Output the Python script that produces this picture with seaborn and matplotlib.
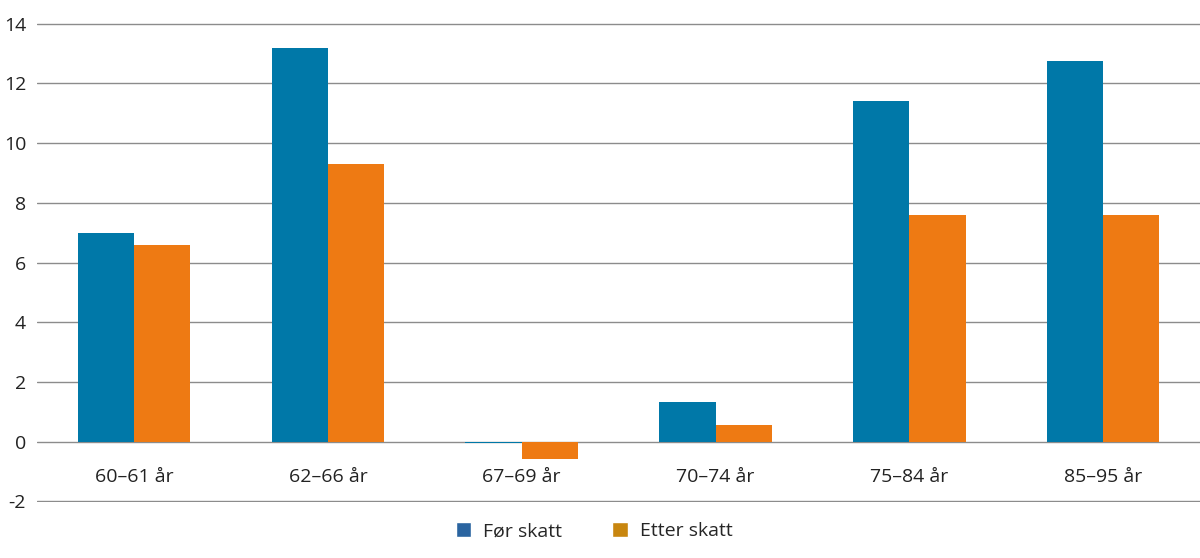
import numpy as np
import pandas as pd
import matplotlib.pyplot as plt
import seaborn as sns
from matplotlib.patches import Patch

# data
categories = ['60–61 år', '62–66 år', '67–69 år', '70–74 år', '75–84 år', '85–95 år']
for_skatt = [7.0, 13.2, -0.05, 1.33, 11.4, 12.75]
etter_skatt = [6.6, 9.3, -0.57, 0.57, 7.58, 7.6]
series = ['Før skatt', 'Etter skatt']

df = pd.DataFrame({
    'kategori': categories * 2,
    'serie': [series[0]] * len(categories) + [series[1]] * len(categories),
    'verdi': for_skatt + etter_skatt,
})

sns.set_style('white')
plt.rcParams['font.family'] = ['Open Sans', 'DejaVu Sans']

bar_colors = ['#0078a8', '#ee7a13']
legend_colors = ['#2a64a0', '#c8860f']

fig = plt.figure(figsize=(12, 5.58), dpi=100)
ax = fig.add_axes([0.031, 0.100, 0.969, 0.859])

sns.barplot(data=df, x='kategori', y='verdi', hue='serie', palette=bar_colors,
            width=0.58, saturation=1, linewidth=0, ax=ax, legend=False)

ax.set_ylim(-2.03, 14.03)
ax.set_xlim(-0.5, len(categories) - 0.5)
ax.set_yticks(range(-2, 15, 2))
ax.set_yticklabels([str(v) for v in range(-2, 15, 2)], fontsize=14, color='#222222')
ax.yaxis.grid(True, color='#8c8c8c', linewidth=1)
ax.set_axisbelow(True)
ax.tick_params(axis='y', length=0, pad=8)
ax.set_xticks([])
ax.set_xlabel('')
ax.set_ylabel('')
for s in ax.spines.values():
    s.set_visible(False)

# category labels sit just under the zero line
for i, c in enumerate(categories):
    ax.text(i, -1.2, c, ha='center', va='center', fontsize=14, color='#222222')

handles = [Patch(facecolor=legend_colors[k], label=series[k]) for k in range(2)]
fig.legend(handles=handles, loc='center', bbox_to_anchor=(0.495, 0.048), ncol=2,
           frameon=False, fontsize=14, handlelength=0.8, handleheight=0.8,
           columnspacing=2.6, handletextpad=0.6)

fig.savefig('out.png', dpi=100)
